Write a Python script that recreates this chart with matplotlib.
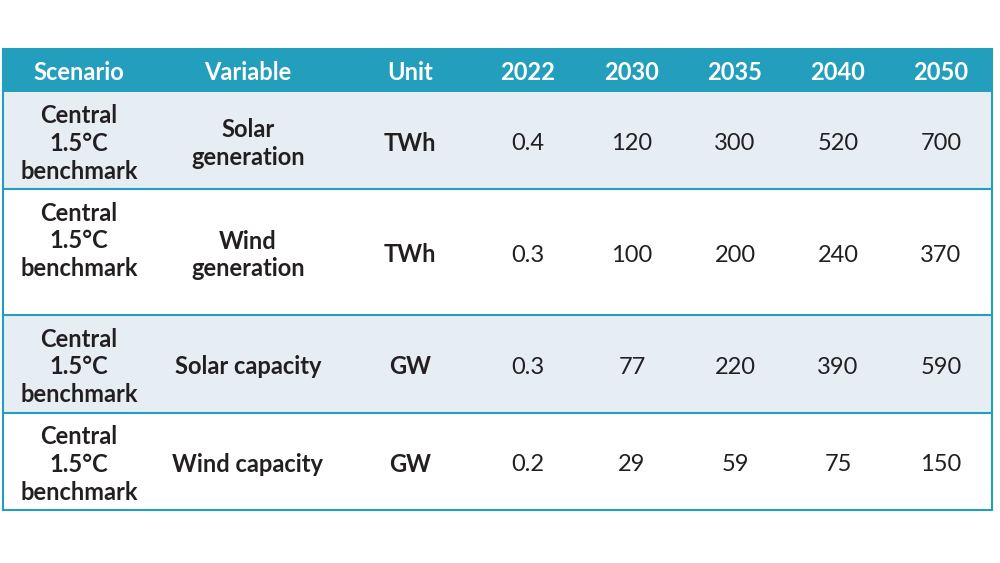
import matplotlib.pyplot as plt
from matplotlib.patches import Rectangle

# table content
columns = ["Scenario", "Variable", "Unit", "2022", "2030", "2035", "2040", "2050"]
scenarios = ["Central\n1.5°C\nbenchmark"] * 4
variables = ["Solar\ngeneration", "Wind\ngeneration", "Solar capacity", "Wind capacity"]
units = ["TWh", "TWh", "GW", "GW"]
values = [
    ["0.4", "120", "300", "520", "700"],
    ["0.3", "100", "200", "240", "370"],
    ["0.3", "77", "220", "390", "590"],
    ["0.2", "29", "59", "75", "150"],
]

# layout (pixel units)
col_x = [79, 248, 410, 528, 632, 735, 838, 941]
left, right = 3, 992
top, head_bot = 49, 92
row_edges = [92, 189, 315, 413, 510]

teal = "#239EBD"
shade = "#E6EEF4"
txt = "#231F20"
fs = 17
plt.rcParams['font.family'] = ['Lato', 'DejaVu Sans']

fig = plt.figure(figsize=(10, 5.63), dpi=100)
ax = fig.add_axes([0, 0, 1, 1])
ax.set_xlim(0, 1000)
ax.set_ylim(563, 0)
ax.axis('off')

# header
ax.add_patch(Rectangle((left, top), right - left, head_bot - top, color=teal, lw=0))
for x, c in zip(col_x, columns):
    ax.text(x, (top + head_bot) / 2 + 2, c, color='white', fontsize=fs,
            fontweight='bold', ha='center', va='center')

for i in range(4):
    y0, y1 = row_edges[i], row_edges[i + 1]
    if i % 2 == 0:
        ax.add_patch(Rectangle((left, y0), right - left, y1 - y0, color=shade, lw=0))
    yc = (y0 + y1) / 2 + 3
    ys = yc if i != 1 else y0 + 52
    ax.text(col_x[0], ys, scenarios[i], ha='center', va='center', fontsize=fs,
            fontweight='bold', color=txt, linespacing=1.25)
    ax.text(col_x[1], yc, variables[i], ha='center', va='center', fontsize=fs,
            fontweight='bold', color=txt, linespacing=1.25)
    ax.text(col_x[2], yc, units[i], ha='center', va='center', fontsize=fs,
            fontweight='bold', color=txt)
    for x, v in zip(col_x[3:], values[i]):
        ax.text(x, yc, v, ha='center', va='center', fontsize=fs, color=txt)
    ax.plot([left, right], [y1, y1], color=teal, lw=1.5)

ax.plot([left, left], [top, row_edges[-1]], color=teal, lw=1.5)
ax.plot([right, right], [top, row_edges[-1]], color=teal, lw=1.5)
ax.plot([left, right], [top, top], color=teal, lw=1.5)

fig.savefig("out.png", dpi=100)
